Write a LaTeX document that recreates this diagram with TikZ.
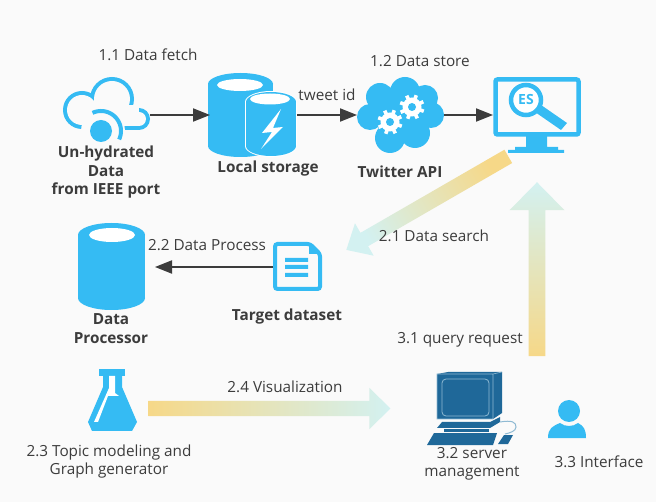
\documentclass[tikz,border=0pt]{standalone}
\usepackage{fontspec}
\setmainfont{Open Sans}
\usetikzlibrary{arrows.meta,shapes.arrows,calc}

\definecolor{iconblue}{HTML}{35BBF3}
\definecolor{pcblue}{HTML}{1F6899}
\definecolor{pcline}{HTML}{8FBAD3}
\definecolor{inkgrey}{HTML}{3C3C3C}
\definecolor{paper}{HTML}{FAFAFA}
\definecolor{fadetail}{HTML}{F6D888}
\definecolor{fadehead}{HTML}{D3F1F1}

\tikzset{
  lbl/.style={text=inkgrey, inner sep=0pt, align=center, font=\fontsize{15.3}{18.5}\selectfont},
  boldlbl/.style={lbl, font=\fontsize{15.3}{18.5}\selectfont\bfseries},
  iconbox/.style={inner sep=0pt, outer sep=0pt, minimum width=#1},
  flow/.style={draw=inkgrey, line width=2pt, -{Triangle[length=17pt,width=13pt]}},
  fadearrow/.style={single arrow, inner sep=7.5pt, outer sep=0pt, single arrow head extend=#1,
    left color=fadetail, right color=fadehead},
}

% cylinder, as cx, top, bottom, rx, ry
\newcommand{\drum}[6][iconblue]{
  \fill[#1] (#2-#5,#3+#6) rectangle (#2+#5,#4-#6);
  \fill[#1] (#2,#3+#6) ellipse [x radius=#5, y radius=#6];
  \fill[#1] (#2,#4-#6) ellipse [x radius=#5, y radius=#6];
}
% white gear wheel
\newcommand{\gearwheel}[2]{
  \foreach \a in {0,45,...,315}
    \draw[white, line width=3.6pt] ($(#1,#2)+(\a+20:6)$) -- ($(#1,#2)+(\a+20:12.5)$);
  \fill[white] (#1,#2) circle (9.5);
  \fill[iconblue] (#1,#2) circle (4);
}

\begin{document}
\begin{tikzpicture}[x=1pt,y=-1pt]

\fill[paper] (0,0) rectangle (656,502);
\useasboundingbox (0,0) rectangle (656,502);

% boxes that the thin arrows end on
\node[iconbox=87pt, minimum height=76pt] (cloud) at (106.5,115) {};
\node[iconbox=87pt, minimum height=84pt] (storage) at (253.5,115) {};
\node[iconbox=87pt, minimum height=76pt] (twitter) at (400.5,115) {};
\node[iconbox=88pt, minimum height=76pt] (monitor) at (537,115) {};
\node[iconbox=49pt, minimum height=49pt] (target) at (297.5,267) {};
\node[iconbox=67pt, minimum height=87pt] (processor) at (111.5,267) {};

% hollow cloud, one union of circles over another
\fill[iconblue] (82,110) circle (19) (112,99) circle (22) (139,119) circle (11);
\fill[iconblue] (82,105) rectangle (139,130);
\fill[paper] (82,110) circle (15) (112,99) circle (18) (139,119) circle (7);
\fill[paper] (82,105) rectangle (139,126);
\fill[paper] (103,131) circle (22);
\draw[iconblue, line width=4pt] plot[domain=-25:115, samples=30] ({101+20*cos(\x)},{131-20*sin(\x)});
\fill[iconblue] (101,131) circle (11);

% local storage
\drum{240.5}{73}{157}{32.5}{11}
\drum[white]{271}{91}{157}{26}{11}
\drum{271}{92}{156}{25}{10}
\fill[white] (240,85) ellipse [x radius=23, y radius=6];
\fill[white] (270,99) ellipse [x radius=20, y radius=5.5];
\fill[white] (281,109) -- (262,133) -- (272,132) -- (261,149) -- (283,127) -- (273,128) -- cycle;

% twitter cloud
\fill[iconblue] (380,97) circle (14) (405,92) circle (15) (425,98) circle (13) (431,115) circle (13)
  (415,133) circle (15) (390,138) circle (15) (370,117) circle (13) (400,115) circle (25);
\gearwheel{390}{122}
\gearwheel{412}{107}

% monitor with lens
\draw[iconblue, line width=4.5pt, rounded corners=2pt] (495.5,79.5) rectangle (578.5,134.5);
\fill[iconblue] (526,136) rectangle (547,147) (515,147) rectangle (558,150) (508,150) rectangle (564,153);
\fill[iconblue] (541,105) -- (567,123) -- (561,130) -- (535,112) -- cycle;
\draw[iconblue, line width=4.5pt, fill=white] (526,100) circle (15);
\node[text=iconblue, inner sep=0pt, font=\fontsize{14}{14}\selectfont\bfseries] (lens) at (526,100) {ES};

% document
\draw[iconblue, line width=4pt, rounded corners=2.5pt] (275,244) -- (310,244) -- (320,254) -- (320,289) -- (275,289) -- cycle;
\fill[iconblue] (309,243) -- (321,254) -- (309,254) -- cycle;
\fill[iconblue] (285,258) rectangle (308,262) (285,265) rectangle (308,269) (285,273) rectangle (308,277);

% data processor
\drum{111.5}{223}{310}{33.5}{12}
\fill[white] (112,235) ellipse [x radius=23, y radius=7];

% flask
\fill[iconblue] (99,369) rectangle (125,376);
\fill[iconblue] (103,376) -- (103,387) -- (88,422) -- (92,431) -- (132,431) -- (137,422) -- (122,387) -- (122,376) -- cycle;
\fill[white] (109,376) -- (115,376) -- (115,393) -- (119,396) -- (108,396) -- (98,422) -- (94,422) -- (109,388) -- cycle;

% desktop computer
\fill[pcblue] (437,374) -- (448,372) -- (502,372) -- (502,413) -- (493,419) -- (437,419) -- cycle;
\draw[pcline, line width=.6pt] (437,374) -- (493,374) -- (493,419) -- (437,419) -- cycle (493,374) -- (502,372);
\draw[pcline, line width=.8pt, rounded corners=4pt] (442,379) rectangle (489,416);
\fill[pcblue] (442,422) -- (490,422) -- (500,417) -- (500,422) -- (490,428) -- (437,428) -- cycle;
\fill[pcblue] (444,429) rectangle (489,432);
\fill[pcblue] (434,433) -- (497,433) -- (493,445) -- (427,445) -- cycle;
\fill[pcblue] (504,435) -- (513,435) -- (508,444) -- (498,444) -- cycle;
\draw[pcline, line width=1pt] (500,422) .. controls (512,420) and (516,422) .. (516,427) .. controls (516,431) and (510,433) .. (505,434);

% person
\fill[iconblue] (569,411) circle (11);
\fill[iconblue] (548,438) .. controls (548,428) and (553,426) .. (560,423) .. controls (565,427) and (573,427) .. (578,423) .. controls (584,426) and (586,430) .. (586,438) -- cycle;

% thin arrows
\draw[flow] (cloud.east) -- (storage.west);
\draw[flow] (storage.east) -- (twitter.west);
\draw[flow] (twitter.east) -- (monitor.west);
\draw[flow, shorten >=10pt] (target.west) -- (processor.east);

% wide faded arrows, the shading does not turn with the node
\node[fadearrow=11pt, shading angle=300, minimum width=37pt, minimum height=187pt, single arrow tip angle=84, rotate=210] (searchflow) at (431,201) {};
\node[fadearrow=17.5pt, shading angle=180, minimum width=55pt, minimum height=174pt, single arrow tip angle=89, rotate=90] (queryflow) at (537,273.5) {};
\node[fadearrow=13pt, minimum width=41pt, minimum height=242pt, single arrow tip angle=89] (visflow) at (265.5,408.5) {};

% texts
\node[lbl] (fetchlbl) at (148,55) {1.1 Data fetch};
\node[boldlbl] (cloudlbl) at (106,172.5) {Un-hydrated\\Data\\from IEEE port};
\node[boldlbl] (storagelbl) at (268,169) {Local storage};
\node[lbl] (idlbl) at (327,95) {tweet id};
\node[lbl] (storelbl) at (420,61) {1.2 Data store};
\node[boldlbl] (twitterlbl) at (400,172) {Twitter API};
\node[lbl] (processlbl) at (207,245) {2.2 Data Process};
\node[lbl] (searchlbl) at (434,235.5) {2.1 Data search};
\node[boldlbl] (targetlbl) at (287,317) {Target dataset};
\node[boldlbl] (processorlbl) at (111,328.5) {Data\\Processor};
\node[lbl] (querylbl) at (460,340) {3.1 query request};
\node[lbl] (vislbl) at (285,387) {2.4 Visualization};
\node[lbl] (topiclbl) at (109,461.5) {2.3 Topic modeling and\\Graph generator};
\node[lbl] (serverlbl) at (472,464) {3.2 server\\management};
\node[lbl] (facelbl) at (599,461.5) {3.3 Interface};

\end{tikzpicture}
\end{document}
